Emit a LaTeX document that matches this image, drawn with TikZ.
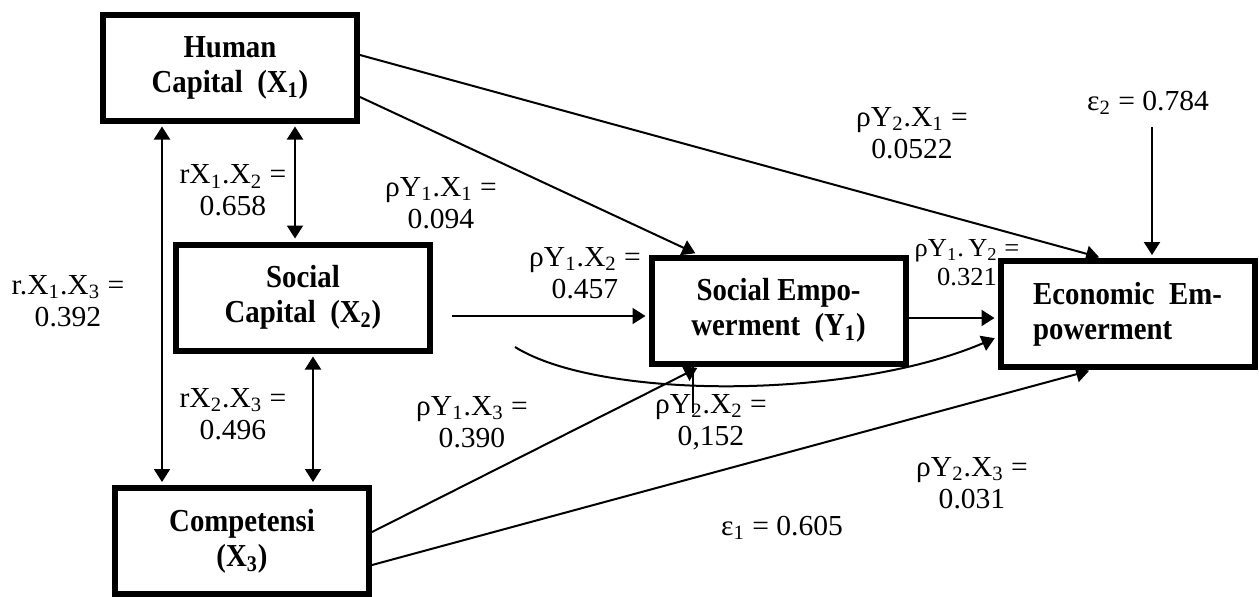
\documentclass[tikz,border=0pt]{standalone}
\usepackage{fontspec}
\setmainfont{Liberation Serif}[FakeStretch=1.02]
\newfontfamily\boxfont{Liberation Serif}[FakeStretch=0.9]
\usetikzlibrary{arrows.meta,calc}
\begin{document}
\begin{tikzpicture}[x=0.5pt,y=-0.5pt,
  box/.style={draw,line width=3pt,minimum width=127pt,minimum height=53pt,inner sep=0pt,align=center,
    font=\boxfont\bfseries\fontsize{16}{17.5}\selectfont},
  lbl/.style={align=center,inner sep=0pt,font=\fontsize{14.5}{16}\selectfont},
  conn/.style={line width=1pt},
  arr/.style={conn,shorten >=1.5pt,-{Triangle[length=6.5pt,width=8pt]}},
  dbl/.style={conn,shorten >=1.5pt,shorten <=1.5pt,{Triangle[length=6.5pt,width=8pt]}-{Triangle[length=6.5pt,width=8pt]}}]
\useasboundingbox (0,0) rectangle (1259,596);

% boxes
\node[box] (h) at (230,67.5) {Human\\Capital\ \ (X\textsubscript{1})};
\node[box] (s) at (303,297.5) {Social\\Capital\ \ (X\textsubscript{2})};
\node[box] (c) at (242,541) {Competensi\\(X\textsubscript{3})};
\node[box] (se) at (778.5,310.5) {Social Empo-\\werment\ \ (Y\textsubscript{1})};
\node[box,align=left] (ee) at (1127.5,314) {Economic\ \ Em-\\powerment};

% labels
\node[lbl] (l12) at (233,190.5) {rX\textsubscript{1}.X\textsubscript{2} =\\0.658};
\node[lbl] (l13) at (68,301) {r.X\textsubscript{1}.X\textsubscript{3} =\\0.392};
\node[lbl] (l23) at (233,414) {rX\textsubscript{2}.X\textsubscript{3} =\\0.496};
\node[lbl] (p11) at (441,203) {ρY\textsubscript{1}.X\textsubscript{1} =\\0.094};
\node[lbl] (p12) at (585,273) {ρY\textsubscript{1}.X\textsubscript{2} =\\0.457};
\node[lbl] (p13) at (472,422) {ρY\textsubscript{1}.X\textsubscript{3} =\\0.390};
\node[lbl] (p22) at (711,422) {ρY\textsubscript{2}.X\textsubscript{2} =\\0,152};
\node[lbl] (p21) at (912,133) {ρY\textsubscript{2}.X\textsubscript{1} =\\0.0522};
\node[lbl,font=\fontsize{13}{14.5}\selectfont] (py) at (967,262.5) {ρY\textsubscript{1}.\,Y\textsubscript{2} =\\0.321};
\node[lbl] (p23) at (972,483) {ρY\textsubscript{2}.X\textsubscript{3} =\\0.031};
\node[lbl] (e1) at (782,528) {ε\textsubscript{1} = 0.605};
\node[lbl] (e2) at (1148,103) {ε\textsubscript{2} = 0.784};

% guide coordinates
\coordinate (g1) at (295,0);
\coordinate (g2) at (162,0);
\coordinate (g3) at (313,0);
\coordinate (g4) at (1152,0);
\coordinate (sst) at (452,316);
\coordinate (g318) at (0,318);
\coordinate (cst) at (515,347);
\coordinate (tk) at (693,413);

% connectors
\draw[dbl] (h.south -| g1) -- (s.north -| g1);
\draw[dbl] (h.south -| g2) -- (c.north -| g2);
\draw[dbl] (s.south -| g3) -- (c.north -| g3);
\draw[arr] ([yshift=6.25pt]h.east) -- ([xshift=-12.75pt]ee.north);
\draw[arr] ([yshift=-14.75pt]h.east) -- ([xshift=-40.25pt]se.north);
\draw[arr] (sst) -- (se.west |- sst);
\draw[arr] (se.east |- g318) -- (ee.west |- g318);
\draw[arr] ([yshift=4.5pt]c.east) -- ([xshift=-39.25pt]se.south);
\draw[arr] ([yshift=-12pt]c.east) -- ([xshift=-17.75pt]ee.south);
\draw[arr] (cst) .. controls (600,400) and (850,400) .. ([yshift=-11.5pt]ee.west);
\draw[arr,shorten <=6pt] (e2.south -| g4) -- (ee.north -| g4);
\draw[conn] (se.south -| tk) -- (tk);
\end{tikzpicture}
\end{document}
